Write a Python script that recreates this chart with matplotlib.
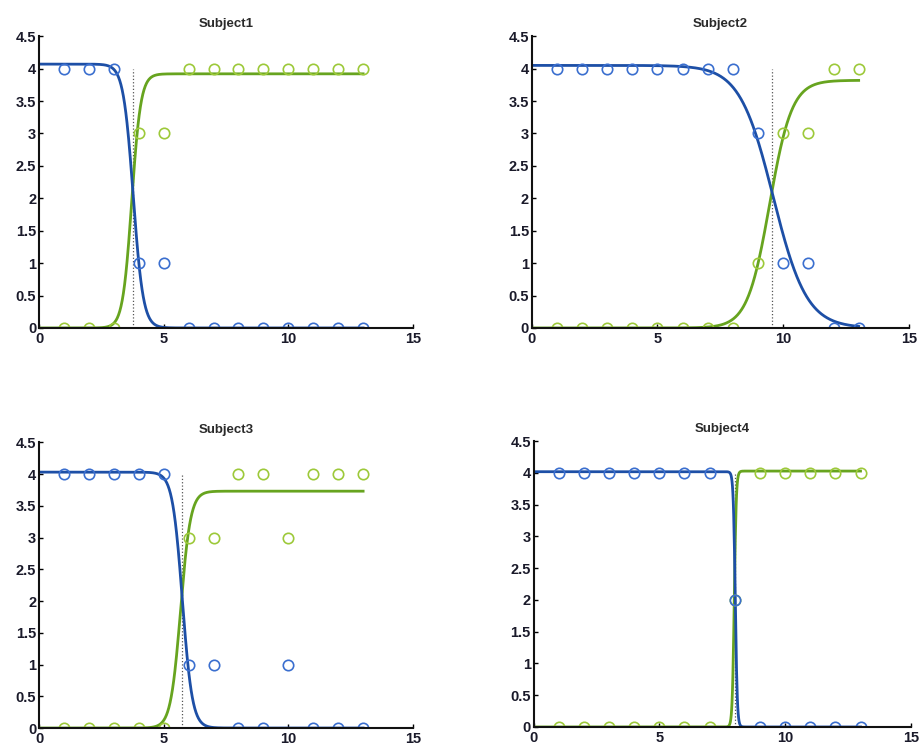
import numpy as np
import matplotlib.pyplot as plt

# trial numbers
trials = np.arange(1, 14)

# observed responses for each subject
blue_s1 = [4, 4, 4, 1, 1, 0, 0, 0, 0, 0, 0, 0, 0]
green_s1 = [0, 0, 0, 3, 3, 4, 4, 4, 4, 4, 4, 4, 4]
blue_s2 = [4, 4, 4, 4, 4, 4, 4, 4, 3, 1, 1, 0, 0]
green_s2 = [0, 0, 0, 0, 0, 0, 0, 0, 1, 3, 3, 4, 4]
blue_s3 = [4, 4, 4, 4, 4, 1, 1, 0, 0, 1, 0, 0, 0]
green_s3 = [0, 0, 0, 0, 0, 3, 3, 4, 4, 3, 4, 4, 4]
blue_s4 = [4, 4, 4, 4, 4, 4, 4, 2, 0, 0, 0, 0, 0]
green_s4 = [0, 0, 0, 0, 0, 0, 0, 2, 4, 4, 4, 4, 4]

# fitted logistic parameters: amplitude, midpoint, slope
blue_fit = [(4.07, 3.78, 5.0), (4.05, 9.6, 1.5), (4.03, 5.75, 5.0), (4.02, 8.02, 25.0)]
green_fit = [(3.92, 3.72, 5.5), (3.82, 9.46, 2.26), (3.73, 5.68, 5.0), (4.03, 7.98, 25.0)]
# change points
crossings = [3.75, 9.55, 5.75, 8.0]

titles = ['Subject1', 'Subject2', 'Subject3', 'Subject4']
blues = [blue_s1, blue_s2, blue_s3, blue_s4]
greens = [green_s1, green_s2, green_s3, green_s4]

fig = plt.figure(figsize=(9.2, 7.5), dpi=100)
positions = [
    [0.0424, 0.5627, 0.4065, 0.389],
    [0.578, 0.5627, 0.41, 0.389],
    [0.0424, 0.0293, 0.4065, 0.381],
    [0.58, 0.0307, 0.41, 0.381],
]

xs = np.linspace(0, 13, 800)
for i in range(4):
    ax = fig.add_axes(positions[i])
    ab, mb, kb = blue_fit[i]
    ag, mg, kg = green_fit[i]
    ax.plot([crossings[i], crossings[i]], [0, 4], ':', color='#555555', lw=0.9)
    ax.plot(xs, ag / (1 + np.exp(-kg * (xs - mg))), color='#67a41f', lw=2.0)
    ax.plot(xs, ab / (1 + np.exp(kb * (xs - mb))), color='#1d4fa6', lw=2.0)
    ax.plot(trials, greens[i], 'o', mfc='none', mec='#9dc93a', ms=7.5, mew=1.2)
    ax.plot(trials, blues[i], 'o', mfc='none', mec='#3b6fcf', ms=7.5, mew=1.2)
    ax.set_xlim(0, 15)
    ax.set_ylim(0, 4.5)
    ax.set_xticks([0, 5, 10, 15])
    ax.set_yticks(np.arange(0, 4.51, 0.5))
    ax.set_yticklabels(['0', '0.5', '1', '1.5', '2', '2.5', '3', '3.5', '4', '4.5'])
    ax.spines['top'].set_visible(False)
    ax.spines['right'].set_visible(False)
    for s in ['left', 'bottom']:
        ax.spines[s].set_linewidth(1.5)
        ax.spines[s].set_color('#111111')
    ax.tick_params(direction='in', length=3, width=1, labelsize=10.5, pad=2)
    ax.tick_params(axis='x', pad=3)
    for lab in ax.get_xticklabels() + ax.get_yticklabels():
        lab.set_fontfamily('Liberation Sans')
        lab.set_fontweight('bold')
        lab.set_color('#1a1a2a')
    ax.set_title(titles[i], fontsize=9.5, fontfamily='Liberation Sans',
                 fontweight='bold', color='#2a2a2a', pad=7)

fig.savefig('out.png', dpi=100)
